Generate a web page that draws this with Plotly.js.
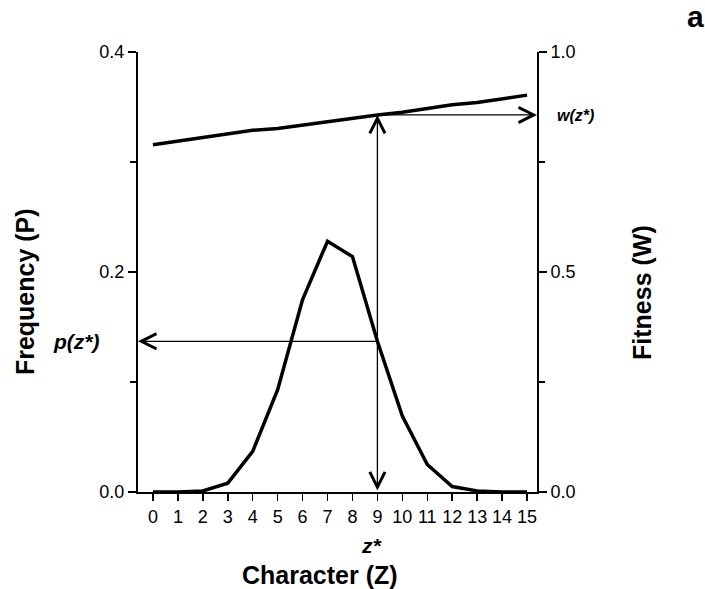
<!DOCTYPE html>
<html>
<head>
<meta charset="utf-8">
<script src="https://cdn.plot.ly/plotly-3.0.1.min.js"></script>
<style>html,body{margin:0;padding:0;background:#fff;}#chart{width:705px;height:589px;}</style>
</head>
<body>
<div id="chart"></div>
<script>
// Character values (Z)
const character = [0,1,2,3,4,5,6,7,8,9,10,11,12,13,14,15];
// Frequency p(z)
const frequency = [0.000,0.000,0.001,0.008,0.037,0.093,0.175,0.228,0.214,0.137,0.069,0.025,0.005,0.001,0.000,0.000];
// Fitness w(z)
const fitness = [0.789,0.797,0.805,0.813,0.822,0.826,0.834,0.842,0.850,0.857,0.863,0.872,0.880,0.885,0.894,0.902];
// Chosen character value z*
const zStar = 9;
const xTickLabels = character.map(String);

const iStar = character.indexOf(zStar);
const pStar = frequency[iStar];
const wStar = fitness[iStar];
const xRange = [-0.6, 15.4];

const FONT = 'Liberation Sans, Arial, sans-serif';
const lineStyle = {color: '#000', width: 3.5};

const traces = [
  {x: character, y: frequency, type: 'scatter', mode: 'lines', line: lineStyle, xaxis: 'x', yaxis: 'y', hoverinfo: 'skip'},
  {x: character, y: fitness, type: 'scatter', mode: 'lines', line: lineStyle, xaxis: 'x', yaxis: 'y2', hoverinfo: 'skip'}
];

const arrowBase = {showarrow: true, text: '', arrowcolor: '#000', arrowwidth: 1.3, arrowsize: 2.3, arrowhead: 5, standoff: 0, startstandoff: 0};

const lbl = {showarrow: false, xanchor: 'center', yanchor: 'middle'};

const annotations = [
  // vertical double arrow at z*
  Object.assign({}, arrowBase, {xref: 'x', yref: 'y2', x: zStar, y: wStar, axref: 'x', ayref: 'y2', ax: zStar, ay: 0,
    arrowside: 'end+start', startarrowhead: 5, startarrowsize: 2.3}),
  // arrow to fitness axis
  Object.assign({}, arrowBase, {xref: 'x', yref: 'y2', x: xRange[1], y: wStar, axref: 'x', ayref: 'y2', ax: zStar, ay: wStar}),
  // arrow to frequency axis
  Object.assign({}, arrowBase, {xref: 'x', yref: 'y', x: xRange[0], y: pStar, axref: 'x', ayref: 'y', ax: zStar, ay: pStar}),
  // labels
  Object.assign({}, lbl, {xref: 'paper', yref: 'y', x: -0.153, y: pStar, text: '<b><i>p(z*)</i></b>', font: {family: FONT, size: 21, color: '#000'}}),
  Object.assign({}, lbl, {xref: 'paper', yref: 'y2', x: 1.097, y: wStar, yshift: -1, text: '<b><i>w(z*)</i></b>', font: {family: FONT, size: 16, color: '#000'}}),
  Object.assign({}, lbl, {xref: 'x', yref: 'paper', x: zStar, y: -0.1227, xshift: -6, text: '<b><i>z*</i></b>', font: {family: FONT, size: 21, color: '#000'}}),
  Object.assign({}, lbl, {xref: 'paper', yref: 'paper', x: 0.456, y: -0.1886, text: '<b>Character (Z)</b>', font: {family: FONT, size: 25, color: '#000'}}),
  Object.assign({}, lbl, {xref: 'paper', yref: 'paper', x: -0.283, y: 0.4545, textangle: -90, text: '<b>Frequency (P)</b>', font: {family: FONT, size: 25, color: '#000'}}),
  Object.assign({}, lbl, {xref: 'paper', yref: 'paper', x: 1.263, y: 0.4545, textangle: -90, text: '<b>Fitness (W)</b>', font: {family: FONT, size: 25, color: '#000'}}),
  Object.assign({}, lbl, {xref: 'paper', yref: 'paper', x: 1.396, y: 1.08, text: '<b>a</b>', font: {family: FONT, size: 30, color: '#000'}})
];

const layout = {
  width: 705, height: 589,
  margin: {l: 138, r: 168, t: 52, b: 97},
  paper_bgcolor: '#fff', plot_bgcolor: '#fff',
  showlegend: false,
  font: {family: FONT, size: 18, color: '#000'},
  xaxis: {
    range: xRange, tickvals: character, ticktext: xTickLabels,
    showline: true, linecolor: '#000', linewidth: 2,
    ticks: 'outside', ticklen: 7, tickwidth: 1.5, tickcolor: '#000',
    showgrid: false, zeroline: false, tickfont: {family: FONT, size: 18, color: '#000'}
  },
  yaxis: {
    range: [0, 0.4], dtick: 0.2, tick0: 0, tickformat: '.1f',
    showline: true, linecolor: '#000', linewidth: 2,
    ticks: 'outside', ticklen: 8, tickwidth: 1.5, tickcolor: '#000',
    minor: {dtick: 0.1, ticks: 'outside', ticklen: 6, tickwidth: 1.5, tickcolor: '#000', showgrid: false},
    showgrid: false, zeroline: false, tickfont: {family: FONT, size: 18, color: '#000'}
  },
  yaxis2: {
    range: [0, 1], dtick: 0.5, tick0: 0, tickformat: '.1f',
    overlaying: 'y', side: 'right',
    showline: true, linecolor: '#000', linewidth: 2,
    ticks: 'outside', ticklen: 8, tickwidth: 1.5, tickcolor: '#000',
    minor: {dtick: 0.25, ticks: 'outside', ticklen: 6, tickwidth: 1.5, tickcolor: '#000', showgrid: false},
    showgrid: false, zeroline: false, tickfont: {family: FONT, size: 18, color: '#000'}
  },
  annotations: annotations
};

Plotly.newPlot('chart', traces, layout, {staticPlot: true, displayModeBar: false});
</script>
</body>
</html>
